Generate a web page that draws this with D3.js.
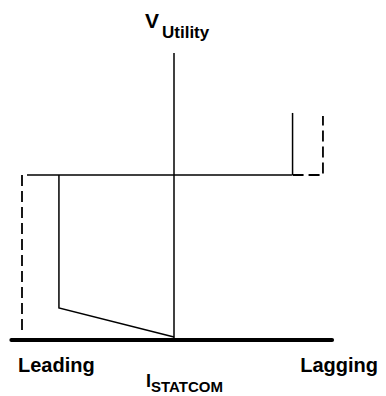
<!DOCTYPE html>
<html>
<head>
<meta charset="utf-8">
<script src="https://cdn.jsdelivr.net/npm/d3@7"></script>
<style>
body { margin: 0; background: #fff; }
text { font-family: "Liberation Sans", Arial, sans-serif; font-weight: bold; fill: #000; }
</style>
</head>
<body>
<svg id="chart" width="386" height="396"></svg>
<script>
// V-I characteristic of a STATCOM (per unit)
var refLine = [[-0.967, 1], [0.776, 1]];            // operating voltage level
var solidLeft = [[-0.757, 1], [-0.757, 0.194], [0, 0.018]];
var solidRight = [[0.78, 1], [0.78, 1.376]];
var dashLeft = [[-1, 1], [-1, 0.03]];
var dashRight = [[0.78, 1], [0.98, 1], [0.98, 1.358]];
var vAxis = [[0, 0], [0, 1.74]];
var iAxis = [[-1.07, 0], [1.04, 0]];

var svg = d3.select('#chart');

var x = d3.scaleLinear().domain([-1, 1]).range([22, 326]);
var y = d3.scaleLinear().domain([0, 1]).range([340, 175]);

var line = d3.line()
    .x(function(d) { return x(d[0]); })
    .y(function(d) { return y(d[1]); });

function draw(pts, width, dash, cap) {
    svg.append('path')
        .attr('d', line(pts))
        .attr('fill', 'none')
        .attr('stroke', '#000')
        .attr('stroke-width', width)
        .attr('stroke-dasharray', dash)
        .attr('stroke-linecap', cap || 'butt');
}

draw(vAxis, 1.5, null);
draw(refLine, 1.5, null);
draw(solidLeft, 1.5, null);
draw(solidRight, 1.5, null);
draw(dashLeft, 1.8, '11,5');
draw(dashRight, 1.8, '11,5');
draw(iAxis, 4, null, 'round');

// labels
var vlab = svg.append('text').attr('x', 145).attr('y', 28).style('font-size', '21px');
vlab.append('tspan').text('V');
vlab.append('tspan').attr('x', 162).attr('y', 38).style('font-size', '17px').text('Utility');

svg.append('text').attr('x', 18).attr('y', 372).style('font-size', '20px').text('Leading');
svg.append('text').attr('x', 378).attr('y', 372).attr('text-anchor', 'end').style('font-size', '20px').text('Lagging');

var ilab = svg.append('text').attr('x', 146).attr('y', 387).style('font-size', '18px');
ilab.append('tspan').text('I');
ilab.append('tspan').attr('x', 151).attr('y', 392).style('font-size', '15px').text('STATCOM');
</script>
</body>
</html>
